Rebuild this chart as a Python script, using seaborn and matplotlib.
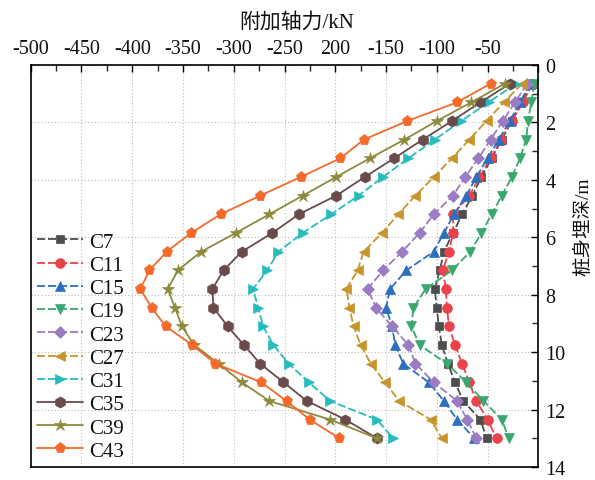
import numpy as np
import pandas as pd
import matplotlib
matplotlib.use("Agg")
import matplotlib.pyplot as plt
import seaborn as sns
from matplotlib.ticker import MultipleLocator

# ---------------- data ----------------
depth = [0.65, 1.30, 1.95, 2.60, 3.25, 3.90, 4.55, 5.20, 5.85, 6.50,
         7.15, 7.80, 8.45, 9.10, 9.75, 10.40, 11.05, 11.70, 12.35, 13.00]

C7  = [-6, -17, -26, -36, -46, -56, -65, -75, -84, -93, -97, -102, -100, -98, -95, -89, -82, -74, -57, -51]
C11 = [-6, -15, -26, -37, -47, -58, -68, -84, -84, -88, -94, -91, -90, -88, -82, -75, -68, -61, -50, -41]
C15 = [-8, -18, -28, -39, -50, -61, -71, -83, -93, -103, -130, -146, -150, -144, -141, -133, -108, -93, -80, -63]
C19 = [-4, -7, -10, -12, -18, -26, -36, -46, -56, -67, -85, -111, -123, -125, -117, -90, -71, -54, -36, -29]
C23 = [-11, -23, -35, -47, -59, -72, -84, -103, -117, -134, -153, -168, -160, -144, -128, -121, -103, -80, -70, -61]
C27 = [-16, -34, -51, -68, -85, -103, -121, -138, -154, -172, -178, -189, -186, -182, -175, -165, -151, -137, -106, -95]
C31 = [-22, -49, -76, -102, -128, -153, -177, -204, -232, -256, -267, -281, -276, -271, -261, -246, -226, -205, -159, -143]
C35 = [-28, -57, -85, -114, -142, -171, -199, -236, -262, -292, -310, -321, -320, -306, -290, -274, -251, -228, -190, -159]
C39 = [-33, -66, -100, -132, -166, -199, -232, -265, -298, -332, -355, -365, -358, -351, -339, -315, -292, -265, -205, -159]
C43 = [-47, -80, -129, -172, -195, -234, -274, -313, -342, -366, -383, -392, -381, -367, -341, -318, -273, -248, -225, -196]

names = ["C7", "C11", "C15", "C19", "C23", "C27", "C31", "C35", "C39", "C43"]
series = [C7, C11, C15, C19, C23, C27, C31, C35, C39, C43]

x_ticks = [-500, -450, -400, -350, -300, -250, -200, -150, -100, -50, 0]
x_tick_labels = ["-500", "-450", "-400", "-350", "-300", "-250", "200", "-150", "-100", "-50", ""]
y_ticks = [0, 2, 4, 6, 8, 10, 12, 14]

# ---------------- style ----------------
colors = ["#4d4d4d", "#e8434b", "#2b6fbf", "#3aa86e", "#9b7bc2",
          "#c8952c", "#27bcbc", "#6b4a4c", "#8d8a3c", "#f46a2a"]
markers = ["s", "o", "^", "v", "D", "<", ">", "h", "*", "p"]
msizes = [6, 7, 7, 7, 6, 7, 7, 8, 9, 8]
dashed = [True, True, True, True, True, True, True, False, False, False]

sns.set_theme(style="white")
plt.rcParams["font.family"] = ["Liberation Serif", "Noto Sans CJK SC"]

fig = plt.figure(figsize=(5.95, 4.81), dpi=100)
ax = fig.add_axes([30.7 / 595, 13 / 481, 507.6 / 595, 402 / 481])

for name, vals, c, m, ms, d in zip(names, series, colors, markers, msizes, dashed):
    df = pd.DataFrame({"force": vals, "depth": depth})
    sns.lineplot(data=df, x="force", y="depth", ax=ax, sort=False, estimator=None,
                 orient="y", color=c, marker=m, markersize=ms,
                 markeredgecolor=c, markeredgewidth=0.5, linewidth=1.3,
                 linestyle=(0, (4.5, 1.6)) if d else "-", label=name)

ax.set_xlim(-500, 0)
ax.set_ylim(14, 0)

ax.xaxis.tick_top()
ax.xaxis.set_label_position("top")
ax.yaxis.tick_right()
ax.yaxis.set_label_position("right")

ax.set_xticks(x_ticks)
ax.set_xticklabels(x_tick_labels)
ax.set_yticks(y_ticks)
ax.set_yticklabels([str(v) for v in y_ticks])
ax.xaxis.set_minor_locator(MultipleLocator(25))
ax.yaxis.set_minor_locator(MultipleLocator(1))

ax.tick_params(axis="both", which="major", direction="in", length=5, width=1.0,
               labelsize=14.5, colors="black", pad=5,
               top=True, right=True, bottom=False, left=False)
ax.tick_params(axis="both", which="minor", direction="in", length=4, width=1.0,
               top=True, right=True, bottom=False, left=False)
for lab in ax.get_xticklabels() + ax.get_yticklabels():
    lab.set_color("#111111")

ax.grid(True, which="major", linestyle=(0, (1, 2)), color="#bbbbbb", linewidth=0.8)
for s in ax.spines.values():
    s.set_visible(True)
    s.set_color("black")
    s.set_linewidth(1.2)

ax.set_xlabel("附加轴力/kN", fontsize=15, color="#111111")
ax.set_ylabel("桩身埋深/m", fontsize=14, color="#111111", rotation=90)
ax.xaxis.set_label_coords(0.525, 1.095)
ax.yaxis.set_label_coords(1.07, 0.6)

leg = ax.legend(loc="lower left", bbox_to_anchor=(0.0, 0.0), frameon=False,
                fontsize=15, handlelength=2.2, handletextpad=0.3,
                labelspacing=0.175, borderaxespad=0.2, borderpad=0.1)
for t in leg.get_texts():
    t.set_color("#111111")

fig.savefig("out.png", dpi=100)
